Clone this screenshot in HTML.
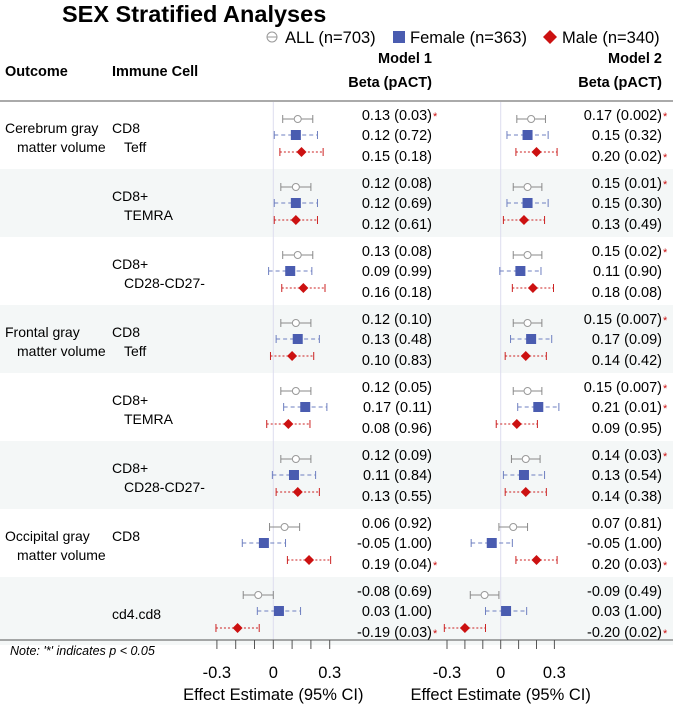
<!DOCTYPE html>
<html><head><meta charset="utf-8"><style>
body{margin:0;background:#fff}
svg{display:block;font-family:"Liberation Sans",Arial,sans-serif}
</style></head><body>
<svg id="c" width="673" height="704" viewBox="0 0 673 704" xmlns="http://www.w3.org/2000/svg">
<text x="62" y="22" font-size="23.5" font-weight="bold">SEX Stratified Analyses</text>
<g font-size="16.5">
 <circle cx="272" cy="37" r="5" fill="none" stroke="#999"/><line x1="267" y1="37" x2="277" y2="37" stroke="#999"/>
 <text x="285" y="43">ALL (n=703)</text>
 <rect x="393" y="31" width="12" height="12" fill="#4a5cb0"/>
 <text x="410" y="43">Female (n=363)</text>
 <path d="M550 30 L557 37 L550 44 L543 37Z" fill="#cc1111"/>
 <text x="562" y="43">Male (n=340)</text>
</g>
<g font-size="14.5" font-weight="bold">
 <text x="5" y="76">Outcome</text>
 <text x="112" y="76">Immune Cell</text>
 <text x="432" y="63" text-anchor="end">Model 1</text>
 <text x="432" y="87" text-anchor="end">Beta (pACT)</text>
 <text x="662" y="63" text-anchor="end">Model 2</text>
 <text x="662" y="87" text-anchor="end">Beta (pACT)</text>
</g>
<g id="bg"></g>
<line x1="0" y1="101" x2="673" y2="101" stroke="#aaa" stroke-width="2"/>
<g id="rows"></g>
<text x="10" y="655" font-size="12.5" font-style="italic">Note: '*' indicates p &lt; 0.05</text>
<g id="axes"></g>
</svg>
<script>
const outcomes=["Cerebrum gray","","","Frontal gray","","","Occipital gray",""];
const cells=[["CD8","Teff"],["CD8+","TEMRA"],["CD8+","CD28-CD27-"],["CD8","Teff"],["CD8+","TEMRA"],["CD8+","CD28-CD27-"],["CD8",""],["","cd4.cd8"]];
const m1Est=[[0.13,0.12,0.15],[0.12,0.12,0.12],[0.13,0.09,0.16],[0.12,0.13,0.10],[0.12,0.17,0.08],[0.12,0.11,0.13],[0.06,-0.05,0.19],[-0.08,0.03,-0.19]];
const m1P=[["0.03","0.72","0.18"],["0.08","0.69","0.61"],["0.08","0.99","0.18"],["0.10","0.48","0.83"],["0.05","0.11","0.96"],["0.09","0.84","0.55"],["0.92","1.00","0.04"],["0.69","1.00","0.03"]];
const m1Sig=[[1,0,0],[0,0,0],[0,0,0],[0,0,0],[0,0,0],[0,0,0],[0,0,1],[0,0,1]];
const m2Est=[[0.17,0.15,0.20],[0.15,0.15,0.13],[0.15,0.11,0.18],[0.15,0.17,0.14],[0.15,0.21,0.09],[0.14,0.13,0.14],[0.07,-0.05,0.20],[-0.09,0.03,-0.20]];
const m2P=[["0.002","0.32","0.02"],["0.01","0.30","0.49"],["0.02","0.90","0.08"],["0.007","0.09","0.42"],["0.007","0.01","0.95"],["0.03","0.54","0.38"],["0.81","1.00","0.03"],["0.49","1.00","0.02"]];
const m2Sig=[[1,0,1],[1,0,0],[1,0,0],[1,0,0],[1,1,0],[1,0,0],[0,0,1],[0,0,1]];
const halfCI=[0.08,0.115,0.115];
const ticks=[-0.3,-0.2,-0.1,0,0.1,0.2,0.3];
const tickLabels=["-0.3","","","0","","","0.3"];
const NS="http://www.w3.org/2000/svg";
function el(t,a,p){const e=document.createElementNS(NS,t);for(const k in a)e.setAttribute(k,a[k]);p.appendChild(e);return e;}
const x1=v=>273.3+v*188;
const x2=v=>500.7+v*179;
const top0=101, gh=68;
const rowOff=[14,34,55], markOff=[18,34,51];
const colors=["#8a8a8a","#6e7fc0","#cc2222"], dash=["","4,3","2,2"];
const bg=document.getElementById('bg'), rows=document.getElementById('rows'), ax=document.getElementById('axes');
for(let g=0;g<8;g++){
 const t=top0+g*gh;
 if(g%2==1){const r=el('rect',{x:0,y:t,width:673,height:gh,fill:'#f4f7f7'},bg);
  
  }
}
el('line',{x1:x1(0),y1:101,x2:x1(0),y2:640,stroke:'#dde',"stroke-width":1},bg);
el('line',{x1:x2(0),y1:101,x2:x2(0),y2:640,stroke:'#dde',"stroke-width":1},bg);
for(let g=0;g<8;g++){
 const t=top0+g*gh;
 if(outcomes[g]){
  const a=el('text',{x:5,y:t+32,"font-size":14},rows);a.textContent=outcomes[g];
  
  
  const b=el('text',{x:17,y:t+51,"font-size":14},rows);b.textContent="matter volume";
  
  
 }
 if(cells[g][0]){const c=el('text',{x:112,y:t+32,"font-size":14},rows);c.textContent=cells[g][0];
  
  }
 if(cells[g][1]){const c=el('text',{x:cells[g][1]=="cd4.cd8"?112:124,y:t+(cells[g][0]?51:42),"font-size":14},rows);c.textContent=cells[g][1];
  
  }
 [[m1Est,m1P,m1Sig,x1,432],[m2Est,m2P,m2Sig,x2,662]].forEach(([E,P,S,X,rx],mi)=>{
  for(let s=0;s<3;s++){
   const v=E[g][s], ty=t+rowOff[s]+5, my=t+markOff[s];
   const tx=el('text',{x:rx,y:ty,"font-size":14.5,"text-anchor":"end"},rows);
   tx.textContent=v.toFixed(2)+" ("+P[g][s]+")";
   
   
   if(S[g][s]){const st=el('text',{x:rx+1,y:ty,"font-size":11,fill:'#cc1111'},rows);st.textContent="*";
    
    }
   const lo=X(v-halfCI[s]), hi=X(v+halfCI[s]);
   const gg=el('g',{},rows);
   
   
   el('line',{x1:lo,y1:my,x2:hi,y2:my,stroke:colors[s],"stroke-dasharray":dash[s]},gg);
   el('line',{x1:lo,y1:my-4,x2:lo,y2:my+4,stroke:colors[s]},gg);
   el('line',{x1:hi,y1:my-4,x2:hi,y2:my+4,stroke:colors[s]},gg);
   const cx=X(v);
   if(s==0)el('circle',{cx:cx,cy:my,r:3.5,fill:'#fff',stroke:'#999'},gg);
   else if(s==1)el('rect',{x:cx-5,y:my-5,width:10,height:10,fill:'#4a5cb0'},gg);
   else el('path',{d:`M${cx} ${my-5}L${cx+5} ${my}L${cx} ${my+5}L${cx-5} ${my}Z`,fill:'#cc1111'},gg);
  }
 });
}
el('line',{x1:0,y1:640,x2:673,y2:640,stroke:'#555',"stroke-width":1},ax);
[x1,x2].forEach((X,mi)=>{
 ticks.forEach((tv,i)=>{
  const l=el('line',{x1:X(tv),y1:640,x2:X(tv),y2:649,stroke:'#555'},ax);
  
  
  if(tickLabels[i]){const tl=el('text',{x:X(tv),y:678,"font-size":16.5,"text-anchor":"middle"},ax);tl.textContent=tickLabels[i];
   
   }
 });
 const tt=el('text',{x:X(0),y:700,"font-size":16.5,"text-anchor":"middle"},ax);tt.textContent="Effect Estimate (95% CI)";
 
 
});
</script>
</body></html>
